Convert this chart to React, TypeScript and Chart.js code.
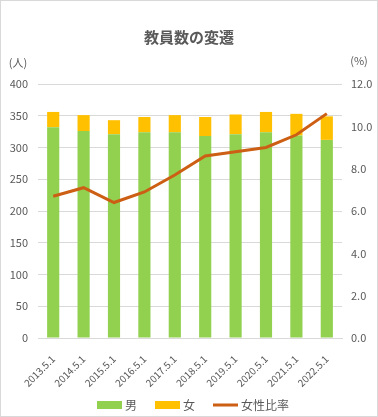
import React, { useEffect, useRef } from "react";
import { Chart, registerables } from "chart.js";

Chart.register(...registerables);

const categories = ["2013.5.1", "2014.5.1", "2015.5.1", "2016.5.1", "2017.5.1", "2018.5.1", "2019.5.1", "2020.5.1", "2021.5.1", "2022.5.1"];
const maleCounts = [332, 326, 321, 324, 324, 318, 321, 324, 319, 312];
const femaleCounts = [24, 25, 22, 24, 27, 30, 31, 32, 34, 37];
const femaleRatio = [6.7, 7.1, 6.4, 6.9, 7.7, 8.6, 8.8, 9.0, 9.6, 10.6];

const FONT = "'Noto Sans CJK JP', 'Noto Sans', sans-serif";
const GRAY = "#595959";
const GREEN = "#92D050";
const YELLOW = "#FFC000";
const ORANGE = "#CD5F14";

const unitPlugin = {
  id: "unitLabels",
  afterDraw(chart: any) {
    const { ctx, chartArea } = chart;
    ctx.save();
    ctx.fillStyle = GRAY;
    ctx.font = `11px ${FONT}`;
    ctx.textBaseline = "middle";
    ctx.textAlign = "center";
    ctx.fillText("(人)", chartArea.left - 20, chartArea.top - 21);
    ctx.fillText("(%)", chartArea.right + 17, chartArea.top - 23);

    // legend
    const items = chart.data.datasets.map((ds: any) => ({
      label: ds.label,
      color: ds.type === "line" ? ds.borderColor : ds.backgroundColor,
      line: ds.type === "line",
    }));
    const y = 404;
    let x = 96;
    ctx.font = `12px ${FONT}`;
    ctx.textAlign = "left";
    items.forEach((it: any) => {
      const w = 25;
      if (it.line) {
        ctx.strokeStyle = it.color;
        ctx.lineWidth = 3;
        ctx.beginPath();
        ctx.moveTo(x, y);
        ctx.lineTo(x + w, y);
        ctx.stroke();
      } else {
        ctx.fillStyle = it.color;
        ctx.fillRect(x, y - 4, w, 8);
      }
      x += w + 3;
      ctx.fillStyle = GRAY;
      ctx.fillText(it.label, x, y);
      x += ctx.measureText(it.label).width + 18;
    });
    ctx.restore();
  },
};

export default function App() {
  const ref = useRef<HTMLCanvasElement | null>(null);
  useEffect(() => {
    document.body.style.margin = "0";
    const chart = new Chart(ref.current as HTMLCanvasElement, {
      type: "bar",
      data: {
        labels: categories,
        datasets: [
          {
            type: "bar",
            label: "男",
            data: maleCounts,
            backgroundColor: GREEN,
            borderWidth: 0,
            yAxisID: "y",
            stack: "s",
            order: 2,
            categoryPercentage: 1,
            barPercentage: 0.4,
          } as any,
          {
            type: "bar",
            label: "女",
            data: femaleCounts,
            backgroundColor: YELLOW,
            borderWidth: 0,
            yAxisID: "y",
            stack: "s",
            order: 2,
            categoryPercentage: 1,
            barPercentage: 0.4,
          } as any,
          {
            type: "line",
            label: "女性比率",
            data: femaleRatio,
            borderColor: ORANGE,
            backgroundColor: ORANGE,
            borderWidth: 3,
            pointRadius: 0,
            tension: 0,
            yAxisID: "y1",
            order: 0,
          } as any,
        ],
      },
      options: {
        responsive: false,
        animation: false,
        layout: { padding: { left: 0, right: 0, top: 0, bottom: 0 } },
        plugins: {
          tooltip: { enabled: false },
          legend: { display: false },
          title: {
            display: true,
            text: "教員数の変遷",
            color: GRAY,
            font: { family: FONT, size: 15, weight: "bold" },
            padding: { top: 27, bottom: 38 },
          },
        },
        scales: {
          x: {
            stacked: true,
            grid: { display: false },
            border: { color: "#d9d9d9" },
            ticks: {
              color: GRAY,
              font: { family: FONT, size: 10 },
              maxRotation: 45,
              minRotation: 45,
              autoSkip: false,
              padding: 7,
            },
            afterFit(scale: any) {
              scale.height = 78;
            },
          },
          y: {
            type: "linear",
            position: "left",
            stacked: true,
            min: 0,
            max: 400,
            border: { display: false },
            grid: { color: "#d9d9d9", drawTicks: false },
            ticks: {
              stepSize: 50,
              color: GRAY,
              font: { family: FONT, size: 11 },
              padding: 10,
            },
            afterFit(scale: any) {
              scale.width = 37;
            },
          },
          y1: {
            type: "linear",
            position: "right",
            min: 0,
            max: 12,
            border: { display: false },
            grid: { drawOnChartArea: false, drawTicks: false },
            ticks: {
              stepSize: 2,
              color: GRAY,
              font: { family: FONT, size: 11 },
              padding: 9,
              callback: (v: any) => Number(v).toFixed(1),
            },
            afterFit(scale: any) {
              scale.width = 35;
            },
          },
        },
      } as any,
      plugins: [unitPlugin],
    });
    return () => chart.destroy();
  }, []);
  return (
    <div style={{ width: 378, height: 417, border: "1px solid #d9d9d9", boxSizing: "border-box", background: "#fff" }}>
      <canvas ref={ref} width={376} height={415} style={{ display: "block" }} />
    </div>
  );
}
